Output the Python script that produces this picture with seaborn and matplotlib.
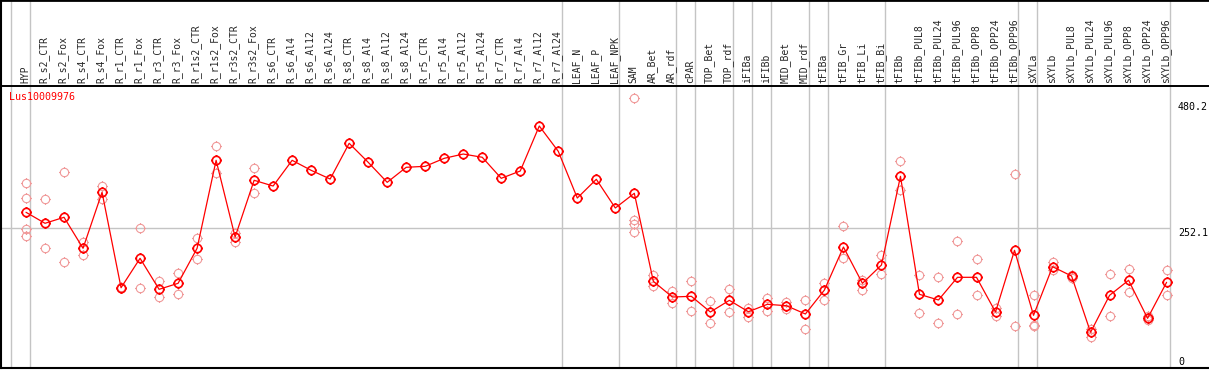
import numpy as np
import pandas as pd
import matplotlib
matplotlib.use("Agg")
import matplotlib.pyplot as plt
from matplotlib.path import Path
import seaborn as sns

nan = np.nan

samples = ["HYP", "R_s2_CTR", "R_s2_Fox", "R_s4_CTR", "R_s4_Fox", "R_r1_CTR", "R_r1_Fox",
           "R_r3_CTR", "R_r3_Fox", "R_r1s2_CTR", "R_r1s2_Fox", "R_r3s2_CTR", "R_r3s2_Fox",
           "R_s6_CTR", "R_s6_Al4", "R_s6_Al12", "R_s6_Al24", "R_s8_CTR", "R_s8_Al4",
           "R_s8_Al12", "R_s8_Al24", "R_r5_CTR", "R_r5_Al4", "R_r5_Al12", "R_r5_Al24",
           "R_r7_CTR", "R_r7_Al4", "R_r7_Al12", "R_r7_Al24", "LEAF_N", "LEAF_P", "LEAF_NPK",
           "SAM", "AR_Bet", "AR_rdf", "cPAR", "TOP_Bet", "TOP_rdf", "iFIBa", "iFIBb",
           "MID_Bet", "MID_rdf", "tFIBa", "tFIB_Gr", "tFIB_Li", "tFIB_Bi", "tFIBb",
           "tFIBb_PUL8", "tFIBb_PUL24", "tFIBb_PUL96", "tFIBb_OPP8", "tFIBb_OPP24",
           "tFIBb_OPP96", "sXYLa", "sXYLb", "sXYLb_PUL8", "sXYLb_PUL24", "sXYLb_PUL96",
           "sXYLb_OPP8", "sXYLb_OPP24", "sXYLb_OPP96"]

# mean expression per sample
means = [280.1, 260.1, 271.0, 214.7, 316.4, 143.1, 196.5, 140.2, 151.1, 214.7, 374.5,
         235.2, 338.2, 327.8, 374.5, 356.3, 340.5, 405.4, 370.9, 334.5, 361.8, 363.6,
         378.1, 385.9, 380.0, 341.8, 355.1, 436.8, 390.8, 306.0, 340.0, 287.9,
         314.6, 154.7, 126.2, 127.5, 99.0, 120.2, 99.5, 113.0, 110.4, 95.4, 138.9,
         217.0, 151.1, 184.3, 345.4, 131.1, 120.8, 162.0, 162.0, 99.0, 211.0,
         93.0, 181.3, 164.4, 62.1, 129.3, 156.6, 87.5, 152.9]

# individual replicates (nan = no replicate)
rep_a = [332.7, 303.7, 352.7, 226.1, 327.8, 144.4, 251.0, 154.7, 169.3, 232.8, 399.9,
         243.0, 360.0] + [nan] * 19 + \
        [487.1, 165.6, 137.1, 155.3, 119.0, 140.2, 106.8, 123.9, 117.7, 120.2, 151.1,
         254.6, 157.1, 202.5, 372.7, 165.6, 162.0, 227.4, 194.7, 106.8, 349.1,
         129.3, 190.3, 165.6, 68.7, 167.5, 176.5, 91.2, 174.7]
rep_b = [305.5, 215.2, 189.2, 203.1, 304.2, 141.7, 142.0, 126.8, 131.1, 195.8, 350.9,
         226.7, 314.6] + [nan] * 19 + \
        [266.1, 145.7, 114.8, 100.3, 78.5, 98.4, 89.9, 101.3, 104.4, 68.1, 120.2,
         196.5, 138.4, 167.5, 320.6, 96.6, 78.5, 94.8, 129.3, 92.3, 73.0,
         75.4, 175.3, 160.2, 54.1, 91.2, 134.8, 83.9, 129.3]
rep_c = [249.7] + [nan] * 31 + [258.3] + [nan] * 20 + [73.6] + [nan] * 7
rep_d = [236.5] + [nan] * 31 + [243.7] + [nan] * 28

group_sizes = [1, 28, 3, 3, 1, 2, 1, 1, 2, 1, 3, 7, 1, 7]
gene = "Lus10009976"
y_ticks = [480.2, 252.1, 0]

red = "#ff0000"
pink = "#f09a9a"
grey = "#c4c4c4"

sns.set_style("white")
plt.rcParams['font.family'] = ['DejaVu Sans Mono', 'DejaVu Sans']

pos = np.arange(len(samples))
main_df = pd.DataFrame({"pos": pos, "value": means})
rep_df = pd.DataFrame({"pos": np.tile(pos, 4),
                       "value": rep_a + rep_b + rep_c + rep_d}).dropna()

# open circle with four little ticks, like the original
ang = np.linspace(0, 2 * np.pi, 49)
circ_verts = list(zip(np.cos(ang), np.sin(ang)))
circ_codes = [Path.MOVETO] + [Path.LINETO] * 47 + [Path.CLOSEPOLY]
tick_verts = [(0, 1), (0, 1.3), (0, -1), (0, -1.3), (1, 0), (1.3, 0), (-1, 0), (-1.3, 0)]
tick_codes = [Path.MOVETO, Path.LINETO] * 4
ring = Path(circ_verts + tick_verts, circ_codes + tick_codes)

W, H = 1209, 370
fig = plt.figure(figsize=(W / 100, H / 100), dpi=100)
top_px, bot_px = 85.7, 368
ax_h = fig.add_axes([1 / W, (H - top_px) / H, (W - 1) / W, top_px / H])
ax = fig.add_axes([1 / W, (H - bot_px) / H, (W - 1) / W, (bot_px - top_px) / H])

x0 = -25 / 19.01
x1 = 1183 / 19.01
for a in (ax, ax_h):
    a.set_xlim(x0, x1)
    for s in a.spines.values():
        s.set_visible(False)
    a.spines['left'].set_visible(True)
    a.spines['left'].set_color('black')
    a.spines['left'].set_linewidth(1.5)
ax.spines['top'].set_visible(True)
ax.spines['top'].set_color('black')
ax.spines['top'].set_linewidth(1.4)
ax.spines['bottom'].set_visible(True)
ax.spines['bottom'].set_color('black')
ax.spines['bottom'].set_linewidth(1.5)
ax_h.spines['top'].set_visible(True)
ax_h.spines['top'].set_color('black')
ax_h.spines['top'].set_linewidth(2)
ax_h.set_xticks([])
ax_h.set_yticks([])
ax_h.set_ylim(0, 1)

# group separators
edges = np.concatenate([[-1], np.cumsum(group_sizes) - 1]) + 0.2
for e in edges:
    ax.axvline(e, color=grey, lw=1, zorder=0)
    ax_h.axvline(e, color=grey, lw=1, zorder=0)

ax.set_ylim(-2.7, 510.0)
ax.hlines(252.1, x0, edges[-1], color=grey, lw=1, zorder=0)

sns.lineplot(data=rep_df, x="pos", y="value", estimator=None, ax=ax,
             linestyle="none", marker=ring, markersize=7.8, markerfacecolor="none",
             markeredgecolor=pink, markeredgewidth=0.8, color=pink, zorder=2)
sns.lineplot(data=main_df, x="pos", y="value", estimator=None, ax=ax,
             color=red, linewidth=0.9, marker=ring, markersize=7.8,
             markerfacecolor="none", markeredgecolor=red, markeredgewidth=1.2, zorder=3)

ax.set_xlabel("")
ax.set_ylabel("")
ax.set_yticks([])
ax.xaxis.tick_top()
ax.set_xticks(pos - 0.05, samples, rotation=90, fontsize=7)
ax.tick_params(axis='x', length=0, pad=1.9)

for v in y_ticks:
    ax.text(60.6, v, f"{v:g}", fontsize=7.2, ha="left",
            va="top" if v > 0 else "bottom", color="black")

ax.text(0.0065, 0.961, gene, transform=ax.transAxes, color=red, fontsize=7.2,
        ha="left", va="center")

fig.savefig("out.png", dpi=100)
